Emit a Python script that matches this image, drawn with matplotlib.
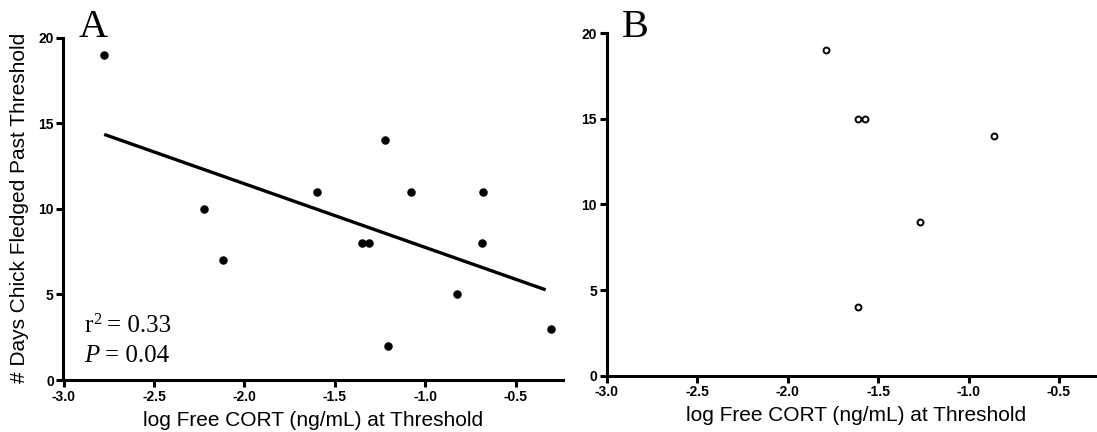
import numpy as np
import matplotlib
matplotlib.use("Agg")
import matplotlib.pyplot as plt

# Panel A: log free CORT at threshold vs days the chick fledged past threshold
cort_a = [-2.775, -2.226, -2.118, -1.597, -1.349, -1.312, -1.224, -1.209,
          -1.081, -0.827, -0.687, -0.681, -0.306]
days_a = [19, 10, 7, 11, 8, 8, 14, 2, 11, 5, 8, 11, 3]

# Panel B: second group
cort_b = [-1.79, -1.61, -1.572, -1.613, -1.269, -0.859]
days_b = [19, 15, 15, 4, 9, 14]

x_ticks = [-3.0, -2.5, -2.0, -1.5, -1.0, -0.5]
x_ticklabels = ["-3.0", "-2.5", "-2.0", "-1.5", "-1.0", "-0.5"]
y_ticks = [0, 5, 10, 15, 20]
x_label = "log Free CORT (ng/mL) at Threshold"
y_label = "# Days Chick Fledged Past Threshold"
p_value_text = "= 0.04"

W, H = 1097, 432
fig = plt.figure(figsize=(W / 100, H / 100), dpi=100)

sans = "Liberation Sans"
serif = "Liberation Serif"


def px_axes(left, top, right, bottom):
    return fig.add_axes([left / W, 1 - bottom / H, (right - left) / W, (bottom - top) / H])


def style(ax):
    ax.set_xlim(-3.0, -0.24)
    ax.set_ylim(0, 20)
    for s in ("top", "right"):
        ax.spines[s].set_visible(False)
    for s in ("left", "bottom"):
        ax.spines[s].set_linewidth(2.2)
    ax.set_xticks(x_ticks)
    ax.set_xticklabels(x_ticklabels)
    ax.set_yticks(y_ticks)
    ax.tick_params(direction="out", length=5, width=2.2, pad=2)
    for lab in ax.get_xticklabels() + ax.get_yticklabels():
        lab.set_fontfamily(sans)
        lab.set_fontweight("bold")
        lab.set_fontsize(10)
    ax.set_xlabel(x_label, fontfamily=sans, fontsize=15, labelpad=5)
    ax.patch.set_alpha(0)


axA = px_axes(63.5, 37.7, 563, 380)
axB = px_axes(606.7, 33.3, 1106, 375.7)
style(axA)
style(axB)

# Panel A scatter with least-squares line
axA.scatter(cort_a, days_a, s=26, color="black", zorder=3, clip_on=False)
xa = np.array(cort_a)
ya = np.array(days_a)
slope, intercept = np.polyfit(xa, ya, 1)
xl = np.array([xa.min(), xa.max() - 0.03])
axA.plot(xl, slope * xl + intercept, color="black", lw=2.4, solid_capstyle="butt")
r2 = np.corrcoef(xa, ya)[0, 1] ** 2

fig.text(20 / W, 1 - 208 / H, y_label, fontfamily=sans, fontsize=15,
         rotation=90, ha="center", va="center")


def place_after(prev, text, y_data, gap_px=0, dy_px=0, **kw):
    """Put a text just to the right of a previously drawn text."""
    fig.canvas.draw()
    bb = prev.get_window_extent()
    base = axA.transData.transform((0, y_data))[1]
    xd, yd = axA.transData.inverted().transform((bb.x1 + gap_px, base + dy_px))
    return axA.text(xd, yd, text, va="baseline", **kw)


stat_size = 18
y_r2, y_p = 2.8, 1.05
r_txt = axA.text(-2.885, y_r2, "r", fontfamily=serif, fontsize=stat_size, va="baseline")
sup = place_after(r_txt, "2", y_r2, gap_px=1, dy_px=8, fontfamily=serif, fontsize=12)
place_after(sup, "= %.2f" % r2, y_r2, gap_px=5, fontfamily=serif, fontsize=stat_size)

p_txt = axA.text(-2.885, y_p, "P", fontfamily=serif, fontstyle="italic",
                 fontsize=stat_size, va="baseline")
place_after(p_txt, p_value_text, y_p, gap_px=5, fontfamily=serif, fontsize=stat_size)

# Panel B open circles
axB.scatter(cort_b, days_b, s=18, facecolors="white", edgecolors="black",
            linewidths=1.4, zorder=3)

fig.text(79 / W, 1 - 37 / H, "A", fontfamily=serif, fontsize=29, va="baseline")
fig.text(622 / W, 1 - 37 / H, "B", fontfamily=serif, fontsize=29, va="baseline")

fig.savefig("out.png", dpi=100, facecolor="white")
